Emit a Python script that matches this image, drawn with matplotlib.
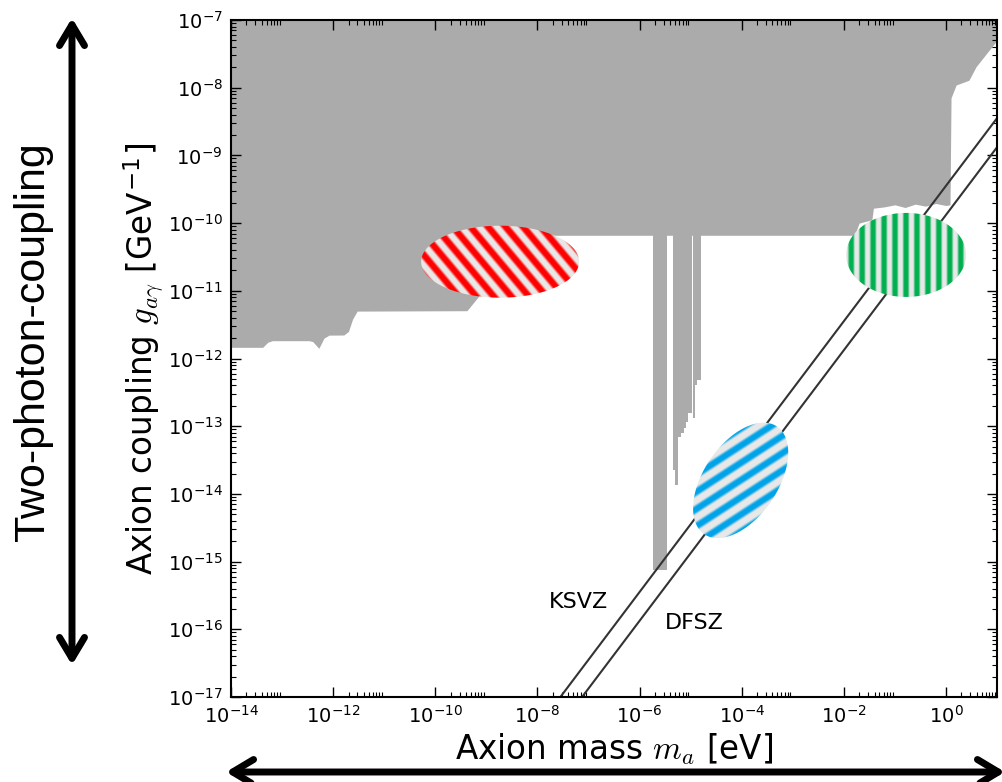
import numpy as np
import matplotlib
matplotlib.use("Agg")
import matplotlib.pyplot as plt
from matplotlib.patches import Polygon, FancyArrowPatch
from matplotlib.colors import LinearSegmentedColormap
from matplotlib.ticker import FixedLocator, LogLocator

plt.rcParams['mathtext.fontset'] = 'cm'

# ---- data (log10 values) ----
# lower edge of the excluded (gray) region, upper edge is the top of the plot
bound_logm = [-14.0, -13.38, -13.28, -13.19, -12.47, -12.40, -12.28, -12.18, -12.08,
              -11.79, -11.70, -11.62, -11.53, -9.38, -9.16, -9.0, -8.8, -8.5, -8.3,
              -1.79, -1.70, -1.45, -1.42, -1.2, -1.0, -0.8, -0.6, -0.4, -0.2, 0.0,
              0.08, 0.10, 0.20, 0.45, 0.59, 1.0]
bound_logg = [-11.835, -11.835, -11.76, -11.737, -11.737, -11.75, -11.85, -11.70, -11.655,
              -11.653, -11.60, -11.42, -11.30, -11.294, -11.09, -10.8, -10.5, -10.25, -10.18,
              -10.18, -10.0, -9.95, -9.78, -9.76, -9.73, -9.77, -9.72, -9.75, -9.71, -9.74,
              -9.73, -8.15, -7.96, -7.89, -7.69, -7.30]
shelf_logg = -10.18

# haloscope exclusions hanging down from the shelf (step edges / bottoms)
spike1_logm = [-5.73, -5.47]
spike1_logg = [-15.12]
spike2_logm = [-5.353, -5.31, -5.244, -5.18, -5.137, -5.09, -5.05, -4.98]
spike2_logg = [-13.65, -13.87, -13.16, -13.10, -13.03, -12.94, -12.80]
spike3_logm = [-4.95, -4.92, -4.87, -4.80]
spike3_logg = [-12.88, -12.39, -12.32]

# QCD axion model lines (two points each)
ksvz_logm = [-7.55, 1.0]
ksvz_logg = [-17.0, -8.45]
dfsz_logm = [-7.125, 1.0]
dfsz_logg = [-17.0, -8.88]

# highlighted regions (centres)
red_center = (-8.73, -10.57)
green_center = (-0.78, -10.47)
blue_center = (-4.02, -13.80)

xlim_log = (-14, 1)
ylim_log = (-17, -7)

W, H, DPI = 1003, 782, 100
fig = plt.figure(figsize=(W / DPI, H / DPI), dpi=DPI)
pos = [231 / W, 1 - 697 / H, (997 - 231) / W, (697 - 20) / H]
ax = fig.add_axes(pos)

gray = '#ababab'
m = 10.0 ** np.array(bound_logm)
ax.fill_between(m, 10.0 ** np.array(bound_logg), 1e-6, color=gray, lw=0, zorder=1)


def spike(logm, logg):
    e = 10.0 ** np.array(logm)
    b = 10.0 ** np.array(logg + [logg[-1]])
    ax.fill_between(e, b, 10 ** shelf_logg * 1.05, step='post', color=gray, lw=0, zorder=1)


spike(spike1_logm, spike1_logg)
spike(spike2_logm, spike2_logg)
spike(spike3_logm, spike3_logg)

ax.plot(10.0 ** np.array(ksvz_logm), 10.0 ** np.array(ksvz_logg), color='#333333', lw=1.5, zorder=2)
ax.plot(10.0 ** np.array(dfsz_logm), 10.0 ** np.array(dfsz_logg), color='#333333', lw=1.5, zorder=2)
ax.text(10 ** -7.2, 10 ** -15.6, 'KSVZ', fontsize=16, ha='center', va='center')
ax.text(10 ** -4.92, 10 ** -15.9, 'DFSZ', fontsize=16, ha='center', va='center')

ax.set_xscale('log')
ax.set_yscale('log')
ax.set_xlim(10.0 ** xlim_log[0], 10.0 ** xlim_log[1])
ax.set_ylim(10.0 ** ylim_log[0], 10.0 ** ylim_log[1])

# old-style log ticks: labelled every second decade, minors only after those
xmaj = 10.0 ** np.arange(-14, 1, 2)
ax.xaxis.set_major_locator(FixedLocator(xmaj))
ax.xaxis.set_minor_locator(FixedLocator([k * v for v in xmaj for k in range(2, 10)]))
ax.yaxis.set_major_locator(FixedLocator(10.0 ** np.arange(-17, -6)))
ax.yaxis.set_minor_locator(LogLocator(base=10, subs=np.arange(2, 10), numticks=30))
ax.tick_params(which='both', direction='in', top=True, right=True)
ax.tick_params(which='major', length=7, width=1, labelsize=14, pad=6)
ax.tick_params(which='minor', length=3.5, width=0.8)
for s in ax.spines.values():
    s.set_linewidth(1.5)

ax.set_xlabel(r'Axion mass $m_a$ [eV]', fontsize=23.5, labelpad=3)
ax.set_ylabel(r'Axion coupling $g_{a\gamma}$ [GeV$^{\mathdefault{-1}}$]', fontsize=23.5, labelpad=2)

# overlay in decades for the striped ellipses
ax2 = fig.add_axes(pos, frameon=False)
ax2.set_axis_off()
ppd = (pos[2] * W / (xlim_log[1] - xlim_log[0]), pos[3] * H / (ylim_log[1] - ylim_log[0]))


def striped_ellipse(center, a, b, angle, stripe_angle, period, color, bias=0.5):
    cx, cy = center
    half = max(a, b) + 3
    n = int(4 * half)
    xs = np.linspace(-half, half, n)
    X, Y = np.meshgrid(xs, xs)
    t = np.deg2rad(stripe_angle)
    u = -X * np.sin(t) + Y * np.cos(t)
    v = np.clip(0.95 * np.cos(2 * np.pi * u / period) + bias, 0, 1)
    cmap = LinearSegmentedColormap.from_list('s', ['#e8e8e8', color])
    im = ax2.imshow(v, extent=[cx - half / ppd[0], cx + half / ppd[0],
                               cy - half / ppd[1], cy + half / ppd[1]],
                    origin='lower', cmap=cmap, vmin=0, vmax=1,
                    interpolation='bilinear', aspect='auto', zorder=3)
    tt = np.linspace(0, 2 * np.pi, 300)
    r = np.deg2rad(angle)
    ex, ey = a * np.cos(tt), b * np.sin(tt)
    px = ex * np.cos(r) - ey * np.sin(r)
    py = ex * np.sin(r) + ey * np.cos(r)
    poly = Polygon(np.column_stack([cx + px / ppd[0], cy + py / ppd[1]]), closed=True,
                   facecolor='none', edgecolor='none')
    ax2.add_patch(poly)
    im.set_clip_path(poly)


striped_ellipse(red_center, 79, 36, 0, -50, 13.5, '#ff0000')
striped_ellipse(green_center, 60, 42, 0, 90, 11.0, '#00b050')
striped_ellipse(blue_center, 65, 37, 56, 33, 14.5, '#00a3e8', bias=0.4)
ax2.set_xlim(*xlim_log)
ax2.set_ylim(*ylim_log)

# outer arrows and label
arr_style = '<->,head_length=0.75,head_width=0.45'
fig.add_artist(FancyArrowPatch((72 / W, 1 - 665 / H), (72 / W, 1 - 18 / H), transform=fig.transFigure,
                               arrowstyle=arr_style, mutation_scale=20, lw=5, color='black',
                               shrinkA=0, shrinkB=0, capstyle='round', joinstyle='round'))
fig.add_artist(FancyArrowPatch((226 / W, 1 - 772 / H), (1.002, 1 - 772 / H), transform=fig.transFigure,
                               arrowstyle=arr_style, mutation_scale=20, lw=5, color='black',
                               shrinkA=0, shrinkB=0, capstyle='round', joinstyle='round'))
fig.text(33 / W, 1 - 342 / H, 'Two-photon-coupling', rotation=90, ha='center', va='center',
         fontsize=31, family=['Liberation Sans', 'DejaVu Sans'])

fig.savefig('out.png', dpi=DPI)
